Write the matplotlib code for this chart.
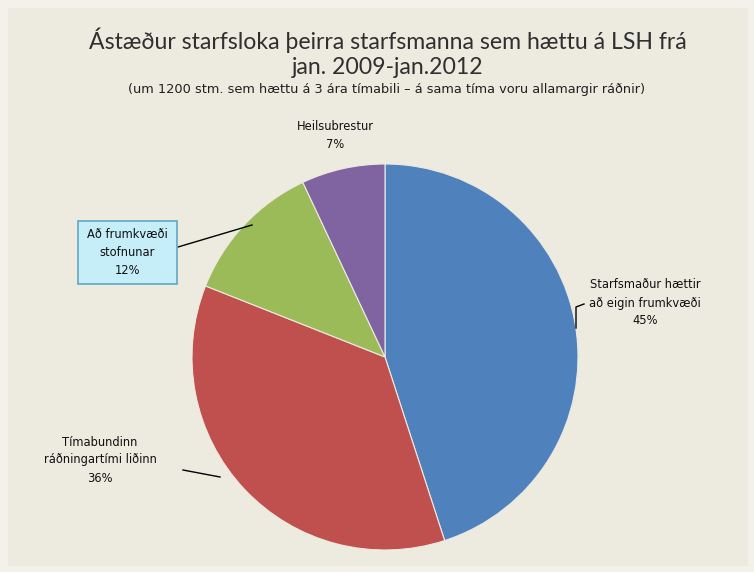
import matplotlib
matplotlib.use("Agg")
import matplotlib.pyplot as plt
from matplotlib.patches import FancyBboxPatch

categories = ["Starfsmaður hættir\nað eigin frumkvæði", "Tímabundinn\nráðningartími liðinn",
              "Að frumkvæði\nstofnunar", "Heilsubrestur"]
values = [45, 36, 12, 7]
colors = ["#4F81BD", "#C0504D", "#9BBB59", "#8064A2"]
title_line1 = "Ástæður starfsloka þeirra starfsmanna sem hættu á LSH frá"
title_line2 = "jan. 2009-jan.2012"
subtitle = "(um 1200 stm. sem hættu á 3 ára tímabili – á sama tíma voru allamargir ráðnir)"

W, H = 754, 572
bg = "#EDEAE0"
fig = plt.figure(figsize=(W / 100, H / 100), dpi=100, facecolor="#F3F1EA")
ax = fig.add_axes([0, 0, 1, 1])

def Y(y):
    return H - y

ax.add_patch(plt.Rectangle((8, 6), W - 14, H - 14, facecolor=bg, edgecolor="none", zorder=0))

cx, cy, r = 385, 357, 193
ax.pie(values, colors=colors, startangle=90, counterclock=False,
       center=(cx, Y(cy)), radius=r, frame=True,
       wedgeprops=dict(linewidth=0.8, edgecolor=bg))
ax.set_xlim(0, W)
ax.set_ylim(0, H)
ax.axis("off")

tc = "#2F2F2F"
ax.text(W / 2 + 11, Y(40), title_line1, ha="center", va="center", fontsize=16.6,
        family="Lato", color=tc)
ax.text(W / 2 + 11, Y(67), title_line2, ha="center", va="center", fontsize=16.6,
        family="Lato", color=tc)
ax.text(W / 2 + 10, Y(89), subtitle, ha="center", va="center", fontsize=9.3,
        family="DejaVu Sans", color="#202020")

lab_kw = dict(ha="center", va="center", fontsize=8.3, family="DejaVu Sans", color="#111111",
              linespacing=1.5)
pct = [f"{v}%" for v in values]

# Starfsmaður
ax.text(645, Y(303), categories[0] + "\n" + pct[0], **lab_kw)
ax.plot([576, 576, 584], [Y(328), Y(307), Y(304)], color="black", lw=1)
# Tímabundinn
ax.text(100, Y(460), categories[1] + "\n" + pct[1], **lab_kw)
ax.plot([183, 220], [Y(470), Y(477)], color="black", lw=1)
# Að frumkvæði (boxed)
box = FancyBboxPatch((78, Y(284)), 99, 63, boxstyle="square,pad=0",
                     facecolor="#C5EEF8", edgecolor="#5FA9C4", lw=1.2, zorder=3)
ax.add_patch(box)
ax.text(127.5, Y(252), categories[2] + "\n" + pct[2], zorder=4, **lab_kw)
ax.plot([178, 252], [Y(247), Y(225)], color="black", lw=1)
# Heilsubrestur
ax.text(335, Y(136), categories[3] + "\n" + pct[3], **lab_kw)

fig.savefig("out.png", dpi=100, facecolor=fig.get_facecolor())
